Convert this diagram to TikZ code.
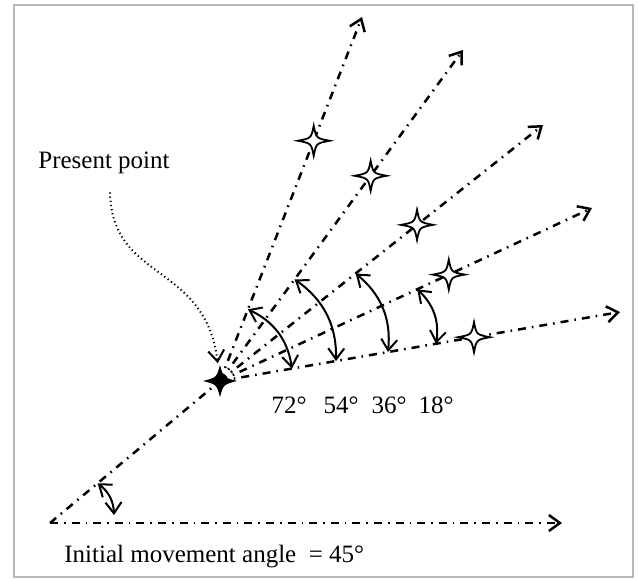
\documentclass[tikz,border=0pt]{standalone}
\usepackage{fontspec}
\setmainfont{Liberation Serif}
\usetikzlibrary{arrows.meta, calc, positioning}

\tikzset{
  sparkle/.pic={
    \path[pic actions] (16,0) .. controls (2.5,2.5) .. (0,15)
      .. controls (-2.5,2.5) .. (-16,0) .. controls (-2.5,-2.5) .. (0,-15)
      .. controls (2.5,-2.5) .. (16,0) -- cycle;
  },
  boldsparkle/.pic={
    \path[pic actions] (17,0) .. controls (3.5,3.5) .. (0,16)
      .. controls (-3.5,3.5) .. (-17,0) .. controls (-3.5,-3.5) .. (0,-16)
      .. controls (3.5,-3.5) .. (17,0) -- cycle;
  }
}

\begin{document}
\begin{tikzpicture}[
    x=0.5pt, y=-0.5pt,
    >={Straight Barb[length=5.5pt,width=8pt]},
    dashdot/.style={line width=1.25pt, dash pattern=on 4pt off 3pt on 0.8pt off 3pt},
    ray/.style={dashdot, ->},
    turn/.style={line width=1pt, <->, bend left=28},
    hint/.style={line width=1pt, dash pattern=on 0.6pt off 1.5pt, ->},
    opencand/.style={draw=black, fill=white, line width=0.9pt},
    txt/.style={font=\fontsize{12.5}{15}\selectfont, inner sep=1pt}
  ]

  \useasboundingbox (0,0) rectangle (638,579);
  \draw[black!28, line width=1pt] (14,5) rectangle (633,577);

  % start, present point and ray ends
  \coordinate (O)  at (50,523);
  \coordinate (t0) at (562,523);
  \coordinate (P)  at (220,381);
  \coordinate (t1) at (362,17);
  \coordinate (t2) at (463,50);
  \coordinate (t3) at (543,125);
  \coordinate (t4) at (592,208);
  \coordinate (t5) at (620,312);

  % initial movement
  \draw[ray] (O) -- (t0);
  \draw[dashdot] (O) -- (P);
  \draw[turn, bend left=25] ($(O)!0.28!(P)$) to ($(O)!0.125!(t0)+(0,-8)$);

  % candidate directions
  \foreach \t in {t1,t2,t3,t4,t5}
    \draw[ray] (P) -- (\t);

  % candidate points
  \path ($(P)!0.66!(t1)$)  pic[opencand] {sparkle};
  \path ($(P)!0.62!(t2)$)  pic[opencand] {sparkle};
  \path ($(P)!0.61!(t3)$)  pic[opencand] {sparkle};
  \path ($(P)!0.615!(t4)$) pic[opencand] {sparkle};
  \path ($(P)!0.635!(t5)$) pic[opencand] {sparkle};

  % turning angles
  \draw[turn] ($(P)!0.197!(t1)$) to ($(P)!0.18!(t5)$);
  \draw[turn] ($(P)!0.307!(t2)$) to ($(P)!0.29!(t5)$);
  \draw[turn] ($(P)!0.42!(t3)$)  to ($(P)!0.42!(t5)$);
  \draw[turn] ($(P)!0.53!(t4)$)  to ($(P)!0.54!(t5)$);

  \node[txt] (a72) at (289,405) {72°};
  \node[txt] (a54) at (341,405) {54°};
  \node[txt] (a36) at (389,405) {36°};
  \node[txt] (a18) at (436,405) {18°};

  % present point
  \path (P) pic[fill=black] {boldsparkle};
  \node[txt] (present) at (104,163) {Present point};
  \draw[hint, shorten >=9pt] ([xshift=3pt,yshift=-8pt]present.south)
    .. controls (112,282) and (205,262) .. (P);

  \node[txt, anchor=west] (init) at (62,557) {Initial movement angle~ = 45°};

\end{tikzpicture}
\end{document}
